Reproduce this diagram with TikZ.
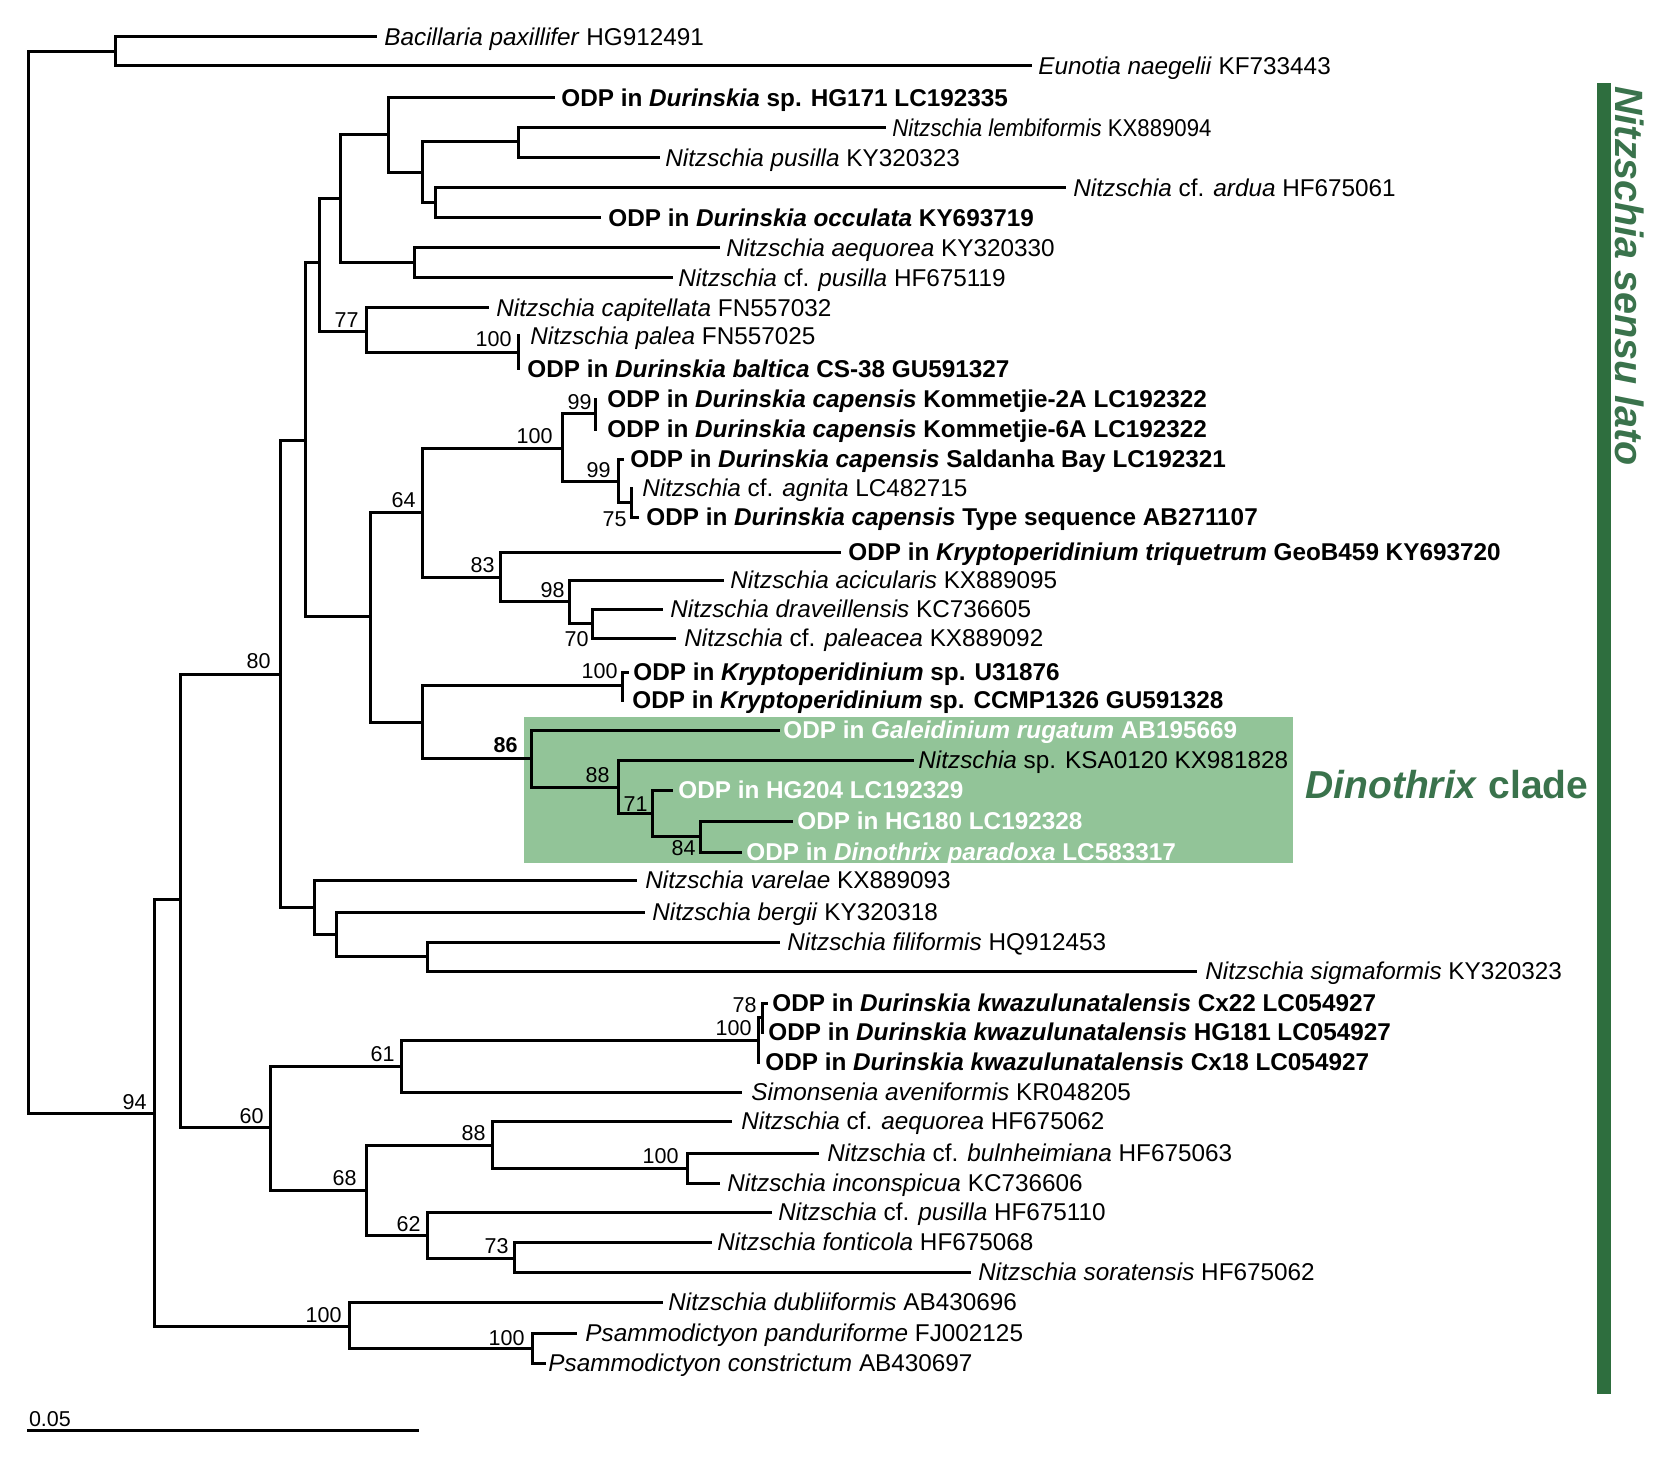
\documentclass[tikz,border=0pt]{standalone}
\usepackage{fontspec}
\setmainfont{Liberation Sans}
\definecolor{boxgreen}{RGB}{146,196,152}
\definecolor{bargreen}{RGB}{46,110,62}
\definecolor{txtgreen}{RGB}{58,115,76}
\newcommand\tipnode[6]{\coordinate (#1) at (#2,#3); \node[#6] (#1L) at (#4,#3+8.7) {#5};}
\tikzset{
  taxon/.style={anchor=base west, inner sep=0pt, font=\fontsize{12.15}{14}\selectfont},
  wtaxon/.style={taxon, text=white},
  supp/.style={anchor=base east, inner sep=0pt, font=\fontsize{10.75}{12}\selectfont},
  br/.style={line width=1.5pt, line cap=rect, line join=miter},
}
\begin{document}
\begin{tikzpicture}[x=0.5pt,y=-0.5pt]
\useasboundingbox (0,0) rectangle (1669,1460);
% clade box and bar
\fill[boxgreen] (524,717) rectangle (1293,863);
\fill[bargreen] (1597,83) rectangle (1611,1394);
\node[anchor=base west, inner sep=0pt, rotate=-90, text=txtgreen, font=\fontsize{19.75}{22}\selectfont\bfseries\itshape] (sl) at (1615,86) {Nitzschia sensu lato};
\node[anchor=base west, inner sep=0pt, text=txtgreen, font=\fontsize{19.5}{22}\selectfont\bfseries] (dc) at (1305,798) {\textit{Dinothrix} clade};

% internal nodes
\coordinate (R) at (28.6,582);
\coordinate (A) at (115,52);
\coordinate (N94) at (154,1113);
\coordinate (N180) at (180,899);
\coordinate (N280) at (280,674);
\coordinate (N305) at (305,440);
\coordinate (N319) at (319,263);
\coordinate (N340) at (340,199);
\coordinate (N388) at (388,135);
\coordinate (N422) at (422.5,173);
\coordinate (N518) at (518,142);
\coordinate (N435) at (435,203);
\coordinate (N414) at (414,263);
\coordinate (N366) at (366,332);
\coordinate (N518b) at (518,353);
\coordinate (N370) at (370,616);
\coordinate (N422b) at (422.5,512);
\coordinate (N562) at (562,448);
\coordinate (N595) at (595,413);
\coordinate (N618) at (618,481);
\coordinate (N631) at (631,502);
\coordinate (N500) at (500,577);
\coordinate (N569) at (569,601.5);
\coordinate (N592) at (592,623.5);
\coordinate (N422c) at (422.5,722);
\coordinate (N622) at (622,685);
\coordinate (N531) at (531,758);
\coordinate (N618b) at (618,787);
\coordinate (N652) at (652,813);
\coordinate (N700) at (700,836);
\coordinate (N314) at (314,907);
\coordinate (N336) at (336,934);
\coordinate (N427) at (427,956);
\coordinate (N270) at (270,1127);
\coordinate (N401) at (401,1066);
\coordinate (N758) at (758,1040);
\coordinate (N762) at (762,1017);
\coordinate (N366b) at (366,1190);
\coordinate (N492) at (492,1145);
\coordinate (N687) at (687,1168);
\coordinate (N427b) at (427,1235);
\coordinate (N514) at (514,1258);
\coordinate (N349) at (349,1326);
\coordinate (N532) at (532,1348);

% tips
\tipnode{t1}{375}{37}{384}{\textit{Bacillaria paxillifer} HG912491}{taxon}
\tipnode{t2}{1030}{66}{1038}{\textit{Eunotia naegelii} KF733443}{taxon}
\tipnode{t3}{553}{98}{561}{\textbf{ODP in \textit{Durinskia} sp. HG171 LC192335}}{taxon}
\tipnode{t4}{884}{128}{892}{\scalebox{0.912}[1]{\textit{Nitzschia lembiformis} KX889094}}{taxon}
\tipnode{t5}{658}{158}{665}{\textit{Nitzschia pusilla} KY320323}{taxon}
\tipnode{t6}{1064}{188}{1073}{\textit{Nitzschia} cf. \textit{ardua} HF675061}{taxon}
\tipnode{t7}{599}{218}{608}{\textbf{ODP in \textit{Durinskia occulata} KY693719}}{taxon}
\tipnode{t8}{718}{248}{726}{\textit{Nitzschia aequorea} KY320330}{taxon}
\tipnode{t9}{671}{278}{678}{\textit{Nitzschia} cf. \textit{pusilla} HF675119}{taxon}
\tipnode{t10}{487.5}{308}{496}{\textit{Nitzschia capitellata} FN557032}{taxon}
\tipnode{t11}{518}{336}{530}{\textit{Nitzschia palea} FN557025}{taxon}
\tipnode{t12}{518}{369}{527}{\textbf{ODP in \textit{Durinskia baltica} CS-38 GU591327}}{taxon}
\tipnode{t13}{595}{399}{607}{\textbf{ODP in \textit{Durinskia capensis} Kommetjie-2A LC192322}}{taxon}
\tipnode{t14}{595}{429}{607}{\textbf{ODP in \textit{Durinskia capensis} Kommetjie-6A LC192322}}{taxon}
\tipnode{t15}{622}{459}{630}{\textbf{ODP in \textit{Durinskia capensis} Saldanha Bay LC192321}}{taxon}
\tipnode{t16}{631}{488}{642}{\textit{Nitzschia} cf. \textit{agnita} LC482715}{taxon}
\tipnode{t17}{637}{517}{646}{\textbf{ODP in \textit{Durinskia capensis} Type sequence AB271107}}{taxon}
\tipnode{t18}{839}{552}{848}{\textbf{ODP in \textit{Kryptoperidinium triquetrum} GeoB459 KY693720}}{taxon}
\tipnode{t19}{722}{580}{730}{\textit{Nitzschia acicularis} KX889095}{taxon}
\tipnode{t20}{661}{609}{670}{\textit{Nitzschia draveillensis} KC736605}{taxon}
\tipnode{t21}{674}{638}{684}{\textit{Nitzschia} cf. \textit{paleacea} KX889092}{taxon}
\tipnode{t22}{627}{672}{633}{\textbf{ODP in \textit{Kryptoperidinium} sp. U31876}}{taxon}
\tipnode{t23}{622}{700}{632}{\textbf{ODP in \textit{Kryptoperidinium} sp. CCMP1326 GU591328}}{taxon}
\tipnode{t24}{778}{730}{783}{\textbf{ODP in \textit{Galeidinium rugatum} AB195669}}{wtaxon}
\tipnode{t25}{912}{760}{918}{\textit{Nitzschia} sp. KSA0120 KX981828}{taxon}
\tipnode{t26}{671}{790}{678}{\textbf{ODP in HG204 LC192329}}{wtaxon}
\tipnode{t27}{791}{821}{797}{\textbf{ODP in HG180 LC192328}}{wtaxon}
\tipnode{t28}{740}{852}{746}{\textbf{ODP in \textit{Dinothrix paradoxa} LC583317}}{wtaxon}
\tipnode{t29}{635}{880}{645}{\textit{Nitzschia varelae} KX889093}{taxon}
\tipnode{t30}{643}{912}{652}{\textit{Nitzschia bergii} KY320318}{taxon}
\tipnode{t31}{778}{942}{787}{\textit{Nitzschia filiformis} HQ912453}{taxon}
\tipnode{t32}{1195}{971}{1205}{\textit{Nitzschia sigmaformis} KY320323}{taxon}
\tipnode{t33}{766}{1003}{772}{\textbf{ODP in \textit{Durinskia kwazulunatalensis} Cx22 LC054927}}{taxon}
\tipnode{t34}{762}{1032}{768}{\textbf{ODP in \textit{Durinskia kwazulunatalensis} HG181 LC054927}}{taxon}
\tipnode{t35}{758}{1062}{765}{\textbf{ODP in \textit{Durinskia kwazulunatalensis} Cx18 LC054927}}{taxon}
\tipnode{t36}{740}{1092}{751}{\textit{Simonsenia aveniformis} KR048205}{taxon}
\tipnode{t37}{730}{1121}{741}{\textit{Nitzschia} cf. \textit{aequorea} HF675062}{taxon}
\tipnode{t38}{817}{1153}{827}{\textit{Nitzschia} cf. \textit{bulnheimiana} HF675063}{taxon}
\tipnode{t39}{718}{1183}{727}{\textit{Nitzschia inconspicua} KC736606}{taxon}
\tipnode{t40}{770}{1212}{778}{\textit{Nitzschia} cf. \textit{pusilla} HF675110}{taxon}
\tipnode{t41}{710}{1242}{717}{\textit{Nitzschia fonticola} HF675068}{taxon}
\tipnode{t42}{969}{1272}{978}{\textit{Nitzschia soratensis} HF675062}{taxon}
\tipnode{t43}{661}{1302}{668}{\textit{Nitzschia dubliiformis} AB430696}{taxon}
\tipnode{t44}{575}{1333}{585}{\textit{Psammodictyon panduriforme} FJ002125}{taxon}
\tipnode{t45}{544}{1363}{548}{\textit{Psammodictyon constrictum} AB430697}{taxon}

% branches
\draw[br] (R) |- (A);   \draw[br] (R) |- (N94);
\draw[br] (A) |- (t1);  \draw[br] (A) |- (t2);
\draw[br] (N94) |- (N180); \draw[br] (N94) |- (N349);
\draw[br] (N180) |- (N280); \draw[br] (N180) |- (N270);
\draw[br] (N280) |- (N305); \draw[br] (N280) |- (N314);
\draw[br] (N305) |- (N319); \draw[br] (N305) |- (N370);
\draw[br] (N319) |- (N340); \draw[br] (N319) |- (N366);
\draw[br] (N340) |- (N388); \draw[br] (N340) |- (N414);
\draw[br] (N388) |- (t3);   \draw[br] (N388) |- (N422);
\draw[br] (N422) |- (N518); \draw[br] (N422) |- (N435);
\draw[br] (N518) |- (t4);   \draw[br] (N518) |- (t5);
\draw[br] (N435) |- (t6);   \draw[br] (N435) |- (t7);
\draw[br] (N414) |- (t8);   \draw[br] (N414) |- (t9);
\draw[br] (N366) |- (t10);  \draw[br] (N366) |- (N518b);
\draw[br] (N518b) |- (t11); \draw[br] (N518b) |- (t12);
\draw[br] (N370) |- (N422b); \draw[br] (N370) |- (N422c);
\draw[br] (N422b) |- (N562); \draw[br] (N422b) |- (N500);
\draw[br] (N562) |- (N595); \draw[br] (N562) |- (N618);
\draw[br] (N595) |- (t13);  \draw[br] (N595) |- (t14);
\draw[br] (N618) |- (t15);  \draw[br] (N618) |- (N631);
\draw[br] (N631) |- (t16);  \draw[br] (N631) |- (t17);
\draw[br] (N500) |- (t18);  \draw[br] (N500) |- (N569);
\draw[br] (N569) |- (t19);  \draw[br] (N569) |- (N592);
\draw[br] (N592) |- (t20);  \draw[br] (N592) |- (t21);
\draw[br] (N422c) |- (N622); \draw[br] (N422c) |- (N531);
\draw[br] (N622) |- (t22);  \draw[br] (N622) |- (t23);
\draw[br] (N531) |- (t24);  \draw[br] (N531) |- (N618b);
\draw[br] (N618b) |- (t25); \draw[br] (N618b) |- (N652);
\draw[br] (N652) |- (t26);  \draw[br] (N652) |- (N700);
\draw[br] (N700) |- (t27);  \draw[br] (N700) |- (t28);
\draw[br] (N314) |- (t29);  \draw[br] (N314) |- (N336);
\draw[br] (N336) |- (t30);  \draw[br] (N336) |- (N427);
\draw[br] (N427) |- (t31);  \draw[br] (N427) |- (t32);
\draw[br] (N270) |- (N401); \draw[br] (N270) |- (N366b);
\draw[br] (N401) |- (N758); \draw[br] (N401) |- (t36);
\draw[br] (N758) |- (N762); \draw[br] (N758) |- (t35);
\draw[br] (N762) |- (t33);  \draw[br] (N762) |- (t34);
\draw[br] (N366b) |- (N492); \draw[br] (N366b) |- (N427b);
\draw[br] (N492) |- (t37);  \draw[br] (N492) |- (N687);
\draw[br] (N687) |- (t38);  \draw[br] (N687) |- (t39);
\draw[br] (N427b) |- (t40); \draw[br] (N427b) |- (N514);
\draw[br] (N514) |- (t41);  \draw[br] (N514) |- (t42);
\draw[br] (N349) |- (t43);  \draw[br] (N349) |- (N532);
\draw[br] (N532) |- (t44);  \draw[br] (N532) |- (t45);

% support values
\node[supp] (s80) at (271,668) {80};
\node[supp] (s94) at (147,1109) {94};
\node[supp] (s77) at (359,328) {77};
\node[supp] (s100a) at (512,347) {100};
\node[supp] (s99a) at (592,409) {99};
\node[supp] (s100b) at (553,443) {100};
\node[supp] (s99b) at (611,477) {99};
\node[supp] (s75) at (627,526) {75};
\node[supp] (s64) at (416,507) {64};
\node[supp] (s83) at (495,572) {83};
\node[supp] (s98) at (565,597) {98};
\node[supp] (s70) at (589,646) {70};
\node[supp] (s100c) at (618,678) {100};
\node[supp, font=\fontsize{10.75}{12}\selectfont\bfseries] (s86) at (518,752) {86};
\node[supp] (s88a) at (610,782) {88};
\node[supp] (s71) at (648,811) {71};
\node[supp] (s84) at (696,855) {84};
\node[supp] (s61) at (395,1061) {61};
\node[supp] (s78) at (757,1012) {78};
\node[supp] (s100d) at (752,1035) {100};
\node[supp] (s60) at (264,1123) {60};
\node[supp] (s88b) at (486,1140) {88};
\node[supp] (s100e) at (679,1163) {100};
\node[supp] (s68) at (357,1185) {68};
\node[supp] (s62) at (421,1231) {62};
\node[supp] (s73) at (509,1253) {73};
\node[supp] (s100f) at (342,1322) {100};
\node[supp] (s100g) at (525,1345) {100};

% scale bar
\coordinate (sbA) at (28.6,1430);
\coordinate (sbB) at (417,1430);
\draw[br] (sbA) -- (sbB);
\node[anchor=base west, inner sep=0pt, font=\fontsize{10.75}{12}\selectfont] (sbl) at (28.6,1426) {0.05};
\end{tikzpicture}
\end{document}
